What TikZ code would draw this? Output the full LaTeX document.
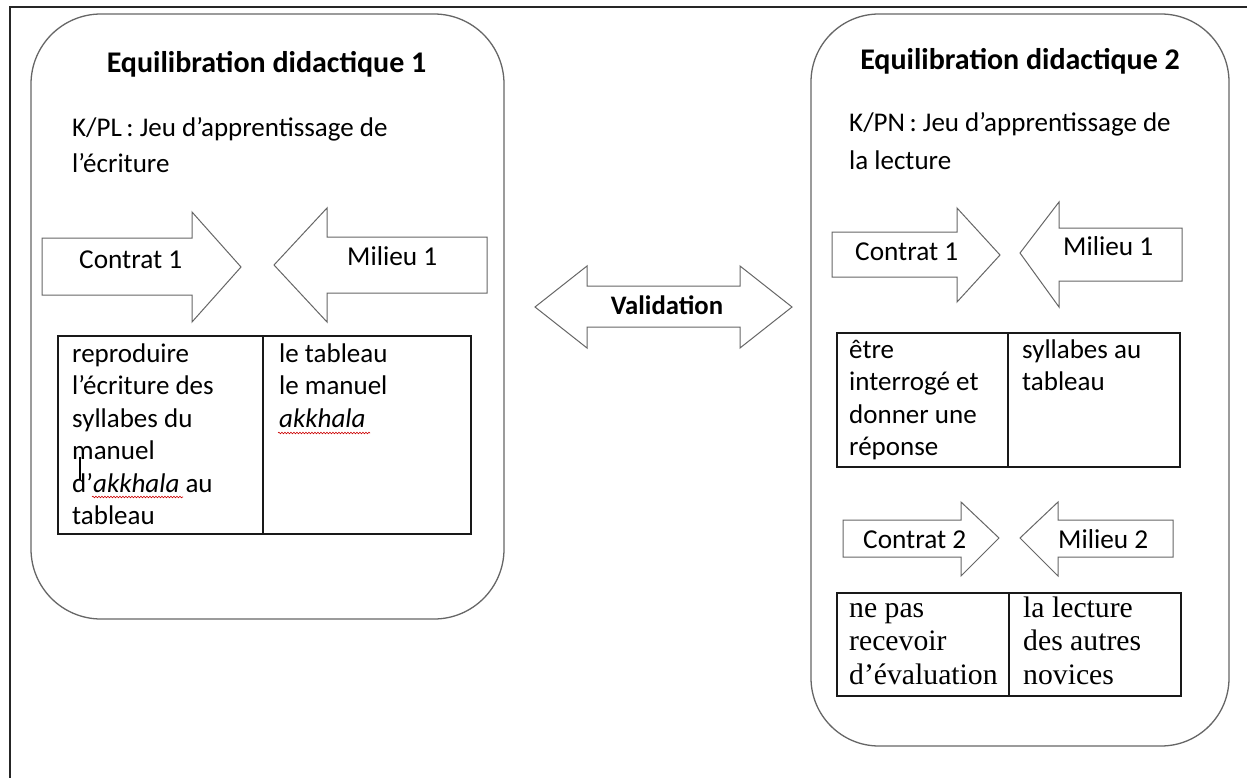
\documentclass[tikz,border=0pt]{standalone}
\usepackage{fontspec}
\setmainfont{Carlito}
\newfontfamily\timesf{Liberation Serif}
\usetikzlibrary{decorations.pathmorphing}
\begin{document}
\begin{tikzpicture}[x=1pt,y=-1pt,
  frame/.style={draw=black!85, line width=2.2pt},
  eqbox/.style={draw=black!60, line width=1.3pt, rounded corners=70pt},
  blockarrow/.style={draw=black!60, line width=1pt, fill=white},
  cell/.style={draw=black!90, line width=1.3pt},
  title/.style={anchor=base, inner sep=0, font=\fontsize{30}{36}\selectfont\bfseries},
  txt/.style={anchor=base west, inner sep=0, font=\fontsize{27}{32.5}\selectfont},
  ttxt/.style={anchor=base west, inner sep=0, font=\fontsize{29.7}{33.5}\selectfont\timesf},
  lbl/.style={anchor=base west, inner sep=0, font=\fontsize{27.3}{32.5}\selectfont},
  spell/.style={draw=red!80!black, line width=0.6pt, decorate, decoration={snake, amplitude=0.8pt, segment length=3pt}}]
\useasboundingbox (0,0) rectangle (1247,778);
\fill[white] (0,0) rectangle (1247,778);

% outer frame (only top and left visible)
\draw[frame] (10,778) -- (10,7) -- (1247,7);

% ---------- left box ----------
\draw[eqbox] (31,14) rectangle (504,619);
\node[title] (t1) at (266.5,73) {Equilibration didactique 1};
\node[txt] (g1) at (72,137) {\parbox[t]{420pt}{\raggedright\baselineskip=36pt K/PL\,: Jeu d’apprentissage de\\l’écriture}};

\draw[blockarrow] (42,238) -- (192,238) -- (192,212) -- (241,267) -- (192,322) -- (192,295) -- (42,295) -- cycle;
\node[lbl] (c1) at (79,268) {Contrat 1};
\draw[blockarrow] (274,265) -- (327,208) -- (327,237) -- (487,237) -- (487,293) -- (327,293) -- (327,322) -- cycle;
\node[lbl] (m1) at (347,265) {Milieu 1};

\draw[cell] (58,336) rectangle (471,534);
\draw[cell] (263,336) -- (263,534);
\node[txt] (a1) at (72,362) {\parbox[t]{185pt}{\raggedright reproduire\\l’écriture des\\syllabes du\\manuel\\d’\textit{akkhala} au\\tableau}};
\node[txt] (b1) at (279,362) {\parbox[t]{185pt}{\raggedright le tableau\\le manuel\\\textit{akkhala}}};
\draw[spell] (92,497) -- (183,497);
\draw[spell] (278,433) -- (370,433);
\draw[line width=1.6pt] (80,457) -- (80,480);

% ---------- validation ----------
\draw[blockarrow] (535,307) -- (587,266) -- (587,286) -- (740,286) -- (740,266) -- (792,307) -- (740,348) -- (740,327) -- (587,327) -- (587,348) -- cycle;
\node[anchor=base, inner sep=0, font=\fontsize{26.7}{30}\selectfont\bfseries] (v) at (667,314) {Validation};

% ---------- right box ----------
\draw[eqbox, rounded corners=68pt] (811,14) rectangle (1229,746);
\node[title] (t2) at (1020,70) {Equilibration didactique 2};
\node[txt] (g2) at (849,132) {\parbox[t]{370pt}{\raggedright\baselineskip=38pt K/PN\,: Jeu d’apprentissage de\\la lecture}};

\draw[blockarrow] (832,232) -- (957,232) -- (957,208) -- (1000,255) -- (957,302) -- (957,277) -- (832,277) -- cycle;
\node[lbl] (c2) at (855,260) {Contrat 1};
\draw[blockarrow] (1020,253) -- (1059,202) -- (1059,228) -- (1182,228) -- (1182,281) -- (1059,281) -- (1059,307) -- cycle;
\node[lbl] (m2) at (1063,255) {Milieu 1};

\draw[cell] (837,333) rectangle (1180,467);
\draw[cell] (1008,333) -- (1008,467);
\node[txt] (a2) at (849,358) {\parbox[t]{160pt}{\raggedright être\\interrogé et\\donner une\\réponse}};
\node[txt] (b2) at (1022,358) {\parbox[t]{160pt}{\raggedright syllabes au\\tableau}};

\draw[blockarrow] (843,520) -- (961,520) -- (961,502) -- (999,538) -- (961,576) -- (961,557) -- (843,557) -- cycle;
\node[lbl] (c3) at (863,548) {Contrat 2};
\draw[blockarrow] (1020,538) -- (1058,502) -- (1058,520) -- (1173,520) -- (1173,557) -- (1058,557) -- (1058,576) -- cycle;
\node[lbl] (m3) at (1058,548) {Milieu 2};

\draw[cell] (837,593) rectangle (1181,696);
\draw[cell] (1009,593) -- (1009,696);
\node[ttxt] (a3) at (849,617) {\parbox[t]{160pt}{\raggedright ne pas\\recevoir\\d’évaluation}};
\node[ttxt] (b3) at (1023,617) {\parbox[t]{160pt}{\raggedright la lecture\\des autres\\novices}};
\end{tikzpicture}
\end{document}
